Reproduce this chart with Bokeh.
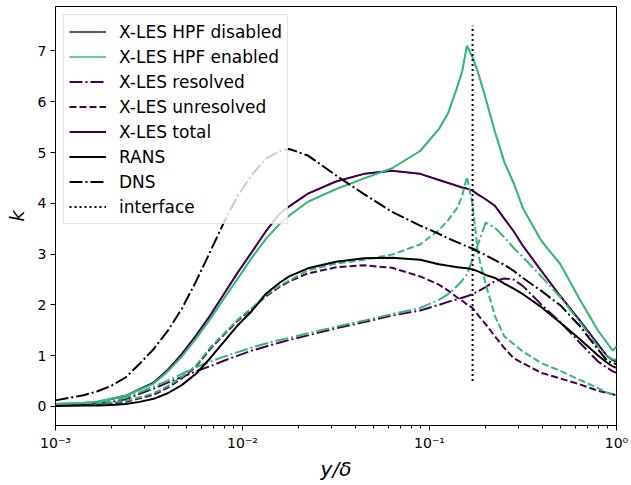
from bokeh.plotting import figure
from bokeh.models import Range1d, FixedTicker, Legend, LegendItem
from bokeh.embed import file_html
from bokeh.resources import INLINE

# y/delta sample positions
y_delta = [0.001, 0.001413, 0.001679, 0.001995, 0.002371, 0.002818, 0.003350, 0.003981,
           0.004732, 0.005623, 0.006683, 0.007943, 0.009441, 0.01122, 0.01334, 0.01585,
           0.01778, 0.02239, 0.03162, 0.04467, 0.06310, 0.08913, 0.1122, 0.1259, 0.1413,
           0.1496, 0.1585, 0.1698, 0.1820, 0.1995, 0.2239, 0.2512, 0.2818, 0.3162, 0.3981,
           0.5012, 0.6310, 0.7943, 0.8913, 0.9550, 1.0]

k_rans = [0.01, 0.02, 0.02, 0.03, 0.05, 0.09, 0.15, 0.26, 0.42, 0.64, 0.94, 1.27, 1.60, 1.88,
          2.22, 2.44, 2.56, 2.72, 2.85, 2.92, 2.93, 2.89, 2.80, 2.77, 2.74, 2.73, 2.72, 2.70,
          2.66, 2.59, 2.53, 2.42, 2.32, 2.21, 1.95, 1.65, 1.34, 1.01, 0.86, 0.79, 0.76]
k_dns = [0.12, 0.22, 0.30, 0.41, 0.57, 0.84, 1.13, 1.49, 1.92, 2.45, 3.03, 3.62, 4.15, 4.56,
         4.88, 5.03, 5.07, 4.94, 4.55, 4.18, 3.83, 3.56, 3.40, 3.31, 3.23, 3.19, 3.15, 3.11,
         3.05, 2.98, 2.88, 2.79, 2.67, 2.53, 2.27, 1.99, 1.60, 1.13, 0.90, 0.86, 0.83]
k_total_off = [0.02, 0.05, 0.08, 0.15, 0.21, 0.34, 0.47, 0.72, 1.03, 1.39, 1.78, 2.21, 2.64,
               3.04, 3.45, 3.80, 3.94, 4.19, 4.43, 4.58, 4.64, 4.58, 4.46, 4.40, 4.34, 4.31,
               4.29, 4.25, 4.17, 4.08, 3.95, 3.70, 3.45, 3.16, 2.66, 2.17, 1.71, 1.23, 0.99,
               0.91, 0.89]
k_total_on = [0.05, 0.07, 0.10, 0.15, 0.21, 0.33, 0.45, 0.69, 0.98, 1.33, 1.71, 2.12, 2.52,
              2.93, 3.30, 3.60, 3.76, 4.03, 4.28, 4.49, 4.69, 5.03, 5.46, 5.78, 6.31, 6.60,
              7.10, 6.88, 6.57, 6.07, 5.41, 4.81, 4.40, 3.90, 3.25, 2.80, 2.13, 1.50, 1.25,
              1.10, 1.18]
k_res_off = [0.02, 0.04, 0.06, 0.09, 0.14, 0.25, 0.35, 0.47, 0.58, 0.69, 0.79, 0.90, 1.00,
             1.10, 1.18, 1.26, 1.31, 1.40, 1.54, 1.66, 1.79, 1.89, 2.00, 2.06, 2.11, 2.14,
             2.17, 2.21, 2.27, 2.35, 2.47, 2.52, 2.50, 2.37, 2.00, 1.66, 1.27, 0.89, 0.76,
             0.69, 0.66]
k_unres_off = [0.02, 0.03, 0.04, 0.06, 0.09, 0.16, 0.23, 0.37, 0.55, 0.78, 1.12, 1.41, 1.69,
               1.92, 2.17, 2.36, 2.46, 2.62, 2.74, 2.78, 2.73, 2.56, 2.40, 2.28, 2.14, 2.08,
               2.01, 1.94, 1.80, 1.62, 1.38, 1.15, 0.95, 0.85, 0.66, 0.55, 0.44, 0.31, 0.27,
               0.24, 0.22]
k_res_on = [0.05, 0.07, 0.09, 0.12, 0.17, 0.28, 0.39, 0.51, 0.64, 0.77, 0.88, 0.98, 1.07,
            1.16, 1.24, 1.31, 1.35, 1.44, 1.57, 1.69, 1.82, 1.94, 2.10, 2.21, 2.38, 2.48,
            2.60, 2.90, 3.20, 3.62, 3.52, 3.33, 3.12, 2.94, 2.55, 2.15, 1.68, 1.18, 0.98,
            0.93, 0.92]
k_unres_on = [0.05, 0.06, 0.06, 0.08, 0.11, 0.18, 0.26, 0.40, 0.58, 0.80, 1.15, 1.43, 1.71,
              1.94, 2.19, 2.38, 2.48, 2.68, 2.81, 2.89, 2.99, 3.19, 3.47, 3.67, 3.92, 4.15,
              4.52, 3.98, 3.00, 2.42, 1.78, 1.38, 1.23, 1.08, 0.85, 0.70, 0.53, 0.36, 0.27,
              0.24, 0.23]

interface_x = [0.17, 0.17]
interface_k = [0.5, 7.5]

x_ticks = [0.001, 0.01, 0.1, 1]
x_tick_labels = ["10⁻³", "10⁻²", "10⁻¹", "10⁰"]
x_minor = [m * d for d in [0.001, 0.01, 0.1] for m in range(2, 10)]
y_ticks = [0, 1, 2, 3, 4, 5, 6, 7]

PURPLE = "#440154"
GREEN = "#35b779"
FONT = "DejaVu Sans"

p = figure(width=631, height=485, x_axis_type="log",
           x_range=Range1d(1e-3, 1), y_range=Range1d(-0.375, 7.875),
           output_backend="svg", toolbar_location=None,
           min_border_left=55, min_border_right=15, min_border_top=6, min_border_bottom=60)

p.xgrid.visible = False
p.ygrid.visible = False
p.outline_line_color = "black"
p.outline_line_width = 1
p.outline_line_alpha = 1

p.xaxis.ticker = FixedTicker(ticks=x_ticks, minor_ticks=x_minor)
p.xaxis.major_label_overrides = dict(zip(x_ticks, x_tick_labels))
p.yaxis.ticker = FixedTicker(ticks=y_ticks, minor_ticks=[])
p.xaxis.axis_label = "y/δ"
p.yaxis.axis_label = "k"

for ax in (p.xaxis, p.yaxis):
    ax.axis_line_color = "black"
    ax.major_tick_line_color = "black"
    ax.minor_tick_line_color = "black"
    ax.major_tick_out = 5
    ax.major_tick_in = 0
    ax.minor_tick_out = 3
    ax.minor_tick_in = 0
    ax.major_label_text_font = FONT
    ax.major_label_text_font_size = "14px"
    ax.major_label_text_color = "black"
    ax.axis_label_text_font = FONT
    ax.axis_label_text_font_size = "20px"
    ax.axis_label_text_font_style = "italic"
    ax.axis_label_text_color = "black"
    ax.major_label_standoff = 4
p.xaxis.axis_label_standoff = 3
p.yaxis.axis_label_standoff = 6

LW = 2
DASHDOT = "13 3 2 3"
DASHED = "7 3"

# thin legend proxies (drawn underneath the full curves)
proxy_off = p.line(y_delta, k_total_off, line_color=PURPLE, line_width=1.3)
proxy_on = p.line(y_delta, k_total_on, line_color=GREEN, line_width=1.3)

r_total_off = p.line(y_delta, k_total_off, line_color=PURPLE, line_width=LW)
r_res_off = p.line(y_delta, k_res_off, line_color=PURPLE, line_width=LW, line_dash=DASHDOT)
r_unres_off = p.line(y_delta, k_unres_off, line_color=PURPLE, line_width=LW, line_dash=DASHED)
r_total_on = p.line(y_delta, k_total_on, line_color=GREEN, line_width=LW)
r_res_on = p.line(y_delta, k_res_on, line_color=GREEN, line_width=LW, line_dash=DASHDOT)
r_unres_on = p.line(y_delta, k_unres_on, line_color=GREEN, line_width=LW, line_dash=DASHED)
r_rans = p.line(y_delta, k_rans, line_color="black", line_width=LW)
r_dns = p.line(y_delta, k_dns, line_color="black", line_width=LW, line_dash=DASHDOT)
r_iface = p.line(interface_x, interface_k, line_color="black", line_width=LW, line_dash="2 3")

legend = Legend(items=[
    LegendItem(label="X-LES HPF disabled", renderers=[proxy_off]),
    LegendItem(label="X-LES HPF enabled", renderers=[proxy_on]),
    LegendItem(label="X-LES resolved", renderers=[r_res_off]),
    LegendItem(label="X-LES unresolved", renderers=[r_unres_off]),
    LegendItem(label="X-LES total", renderers=[r_total_off]),
    LegendItem(label="RANS", renderers=[r_rans]),
    LegendItem(label="DNS", renderers=[r_dns]),
    LegendItem(label="interface", renderers=[r_iface]),
], location="top_left")
legend.label_text_font = FONT
legend.label_text_font_size = "17px"
legend.label_text_color = "black"
legend.border_line_color = "#cccccc"
legend.border_line_width = 1
legend.background_fill_alpha = 0.8
legend.padding = 5
legend.spacing = 2
legend.margin = 8
legend.glyph_width = 37
legend.glyph_height = 23
legend.label_height = 23
legend.label_standoff = 13
p.add_layout(legend)

open("out.html", "w").write(file_html(p, INLINE))
